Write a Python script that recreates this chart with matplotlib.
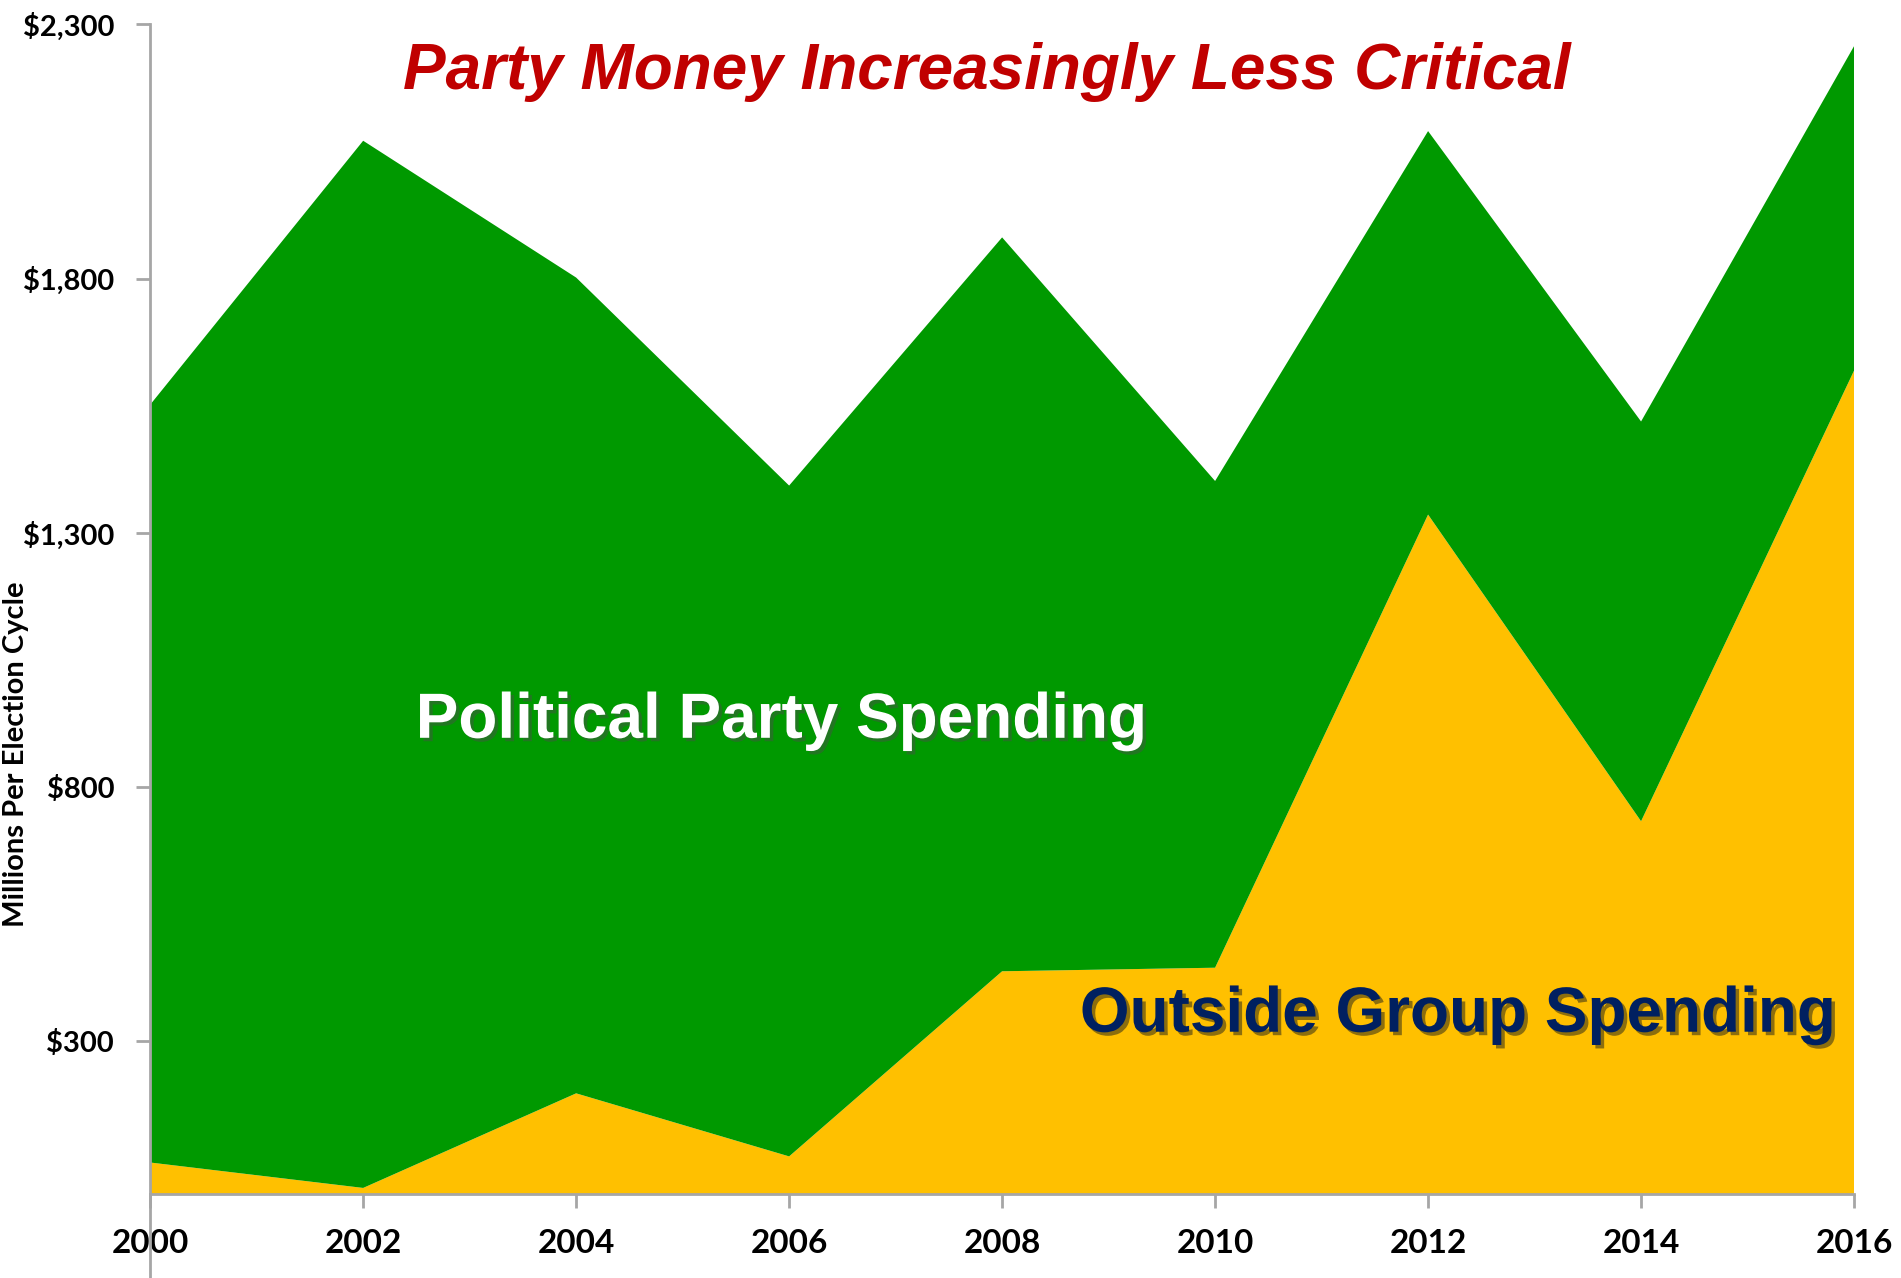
import matplotlib
matplotlib.use("Agg")

import matplotlib.pyplot as plt
import matplotlib.patheffects as pe
from matplotlib.lines import Line2D


# === Data (millions of dollars per election cycle) ===
years = [2000, 2002, 2004, 2006, 2008, 2010, 2012, 2014, 2016]
outside_group = [62, 12, 198, 74, 438, 445, 1336, 733, 1619]
total_spending = [1552, 2071, 1802, 1393, 1881, 1402, 2090, 1519, 2257]
party_spending = [t - o for t, o in zip(total_spending, outside_group)]

y_ticks = [300, 800, 1300, 1800, 2300]
y_tick_labels = ["$300", "$800", "$1,300", "$1,800", "$2,300"]

# === Colours ===
GREEN = "#009900"
YELLOW = "#FFC000"
RED = "#C00000"
NAVY = "#002060"
AXIS_GRAY = "#A6A6A6"


def main():
    fig = plt.figure(figsize=(19.01, 12.78), dpi=100)
    ax = fig.add_axes([0.0790, 0.0657, 0.8963, 0.9153])

    ax.stackplot(years, outside_group, party_spending,
                 colors=[YELLOW, GREEN], linewidth=0)

    ax.set_xlim(2000, 2016)
    ax.set_ylim(0, 2300)
    ax.set_xticks(years)
    ax.set_xticklabels([str(y) for y in years])
    ax.set_yticks(y_ticks)
    ax.set_yticklabels(y_tick_labels)

    # === Spines / ticks ===
    for side in ["top", "right"]:
        ax.spines[side].set_visible(False)
    for side in ["left", "bottom"]:
        ax.spines[side].set_color(AXIS_GRAY)
        ax.spines[side].set_linewidth(2)
    ax.tick_params(axis="both", direction="out", length=10, width=2,
                   color=AXIS_GRAY)
    ax.tick_params(axis="x", pad=15)
    ax.tick_params(axis="y", pad=16)

    for lbl in ax.get_xticklabels():
        lbl.set_fontfamily("Lato")
        lbl.set_fontweight("bold")
        lbl.set_fontsize(24)
    for lbl in ax.get_yticklabels():
        lbl.set_fontfamily("Lato")
        lbl.set_fontweight("bold")
        lbl.set_fontsize(21)

    # left axis line runs on below the x axis in the original
    ax.add_line(Line2D([0, 0], [0, -0.08], transform=ax.transAxes,
                       color=AXIS_GRAY, linewidth=2, clip_on=False))

    # === Axis labels ===
    fig.text(0.0085, 0.41, "Millions Per Election Cycle", rotation=90,
             ha="center", va="center", fontsize=21, fontweight="bold",
             family="Lato")
    # x label is mostly cut off by the lower edge in the original
    fig.text(0.5, -0.035, "Year of Election", ha="center", va="bottom",
             fontsize=22, fontweight="bold", family="Lato", color=NAVY)

    # === Title and area annotations ===
    fig.text(0.519, 0.944, "Party Money Increasingly Less Critical",
             ha="center", va="center", fontsize=46, fontweight="bold",
             style="italic", family="Liberation Sans", color=RED)

    shadow = [pe.SimplePatchShadow(offset=(2.5, -2.5), alpha=0.45),
              pe.Normal()]
    fig.text(0.411, 0.436, "Political Party Spending", ha="center",
             va="center", fontsize=46, fontweight="bold",
             family="Liberation Sans", color="white", path_effects=shadow)
    fig.text(0.767, 0.206, "Outside Group Spending", ha="center",
             va="center", fontsize=46, fontweight="bold",
             family="Liberation Sans", color=NAVY, path_effects=shadow)

    fig.savefig("out.png", dpi=100)


if __name__ == "__main__":
    main()
